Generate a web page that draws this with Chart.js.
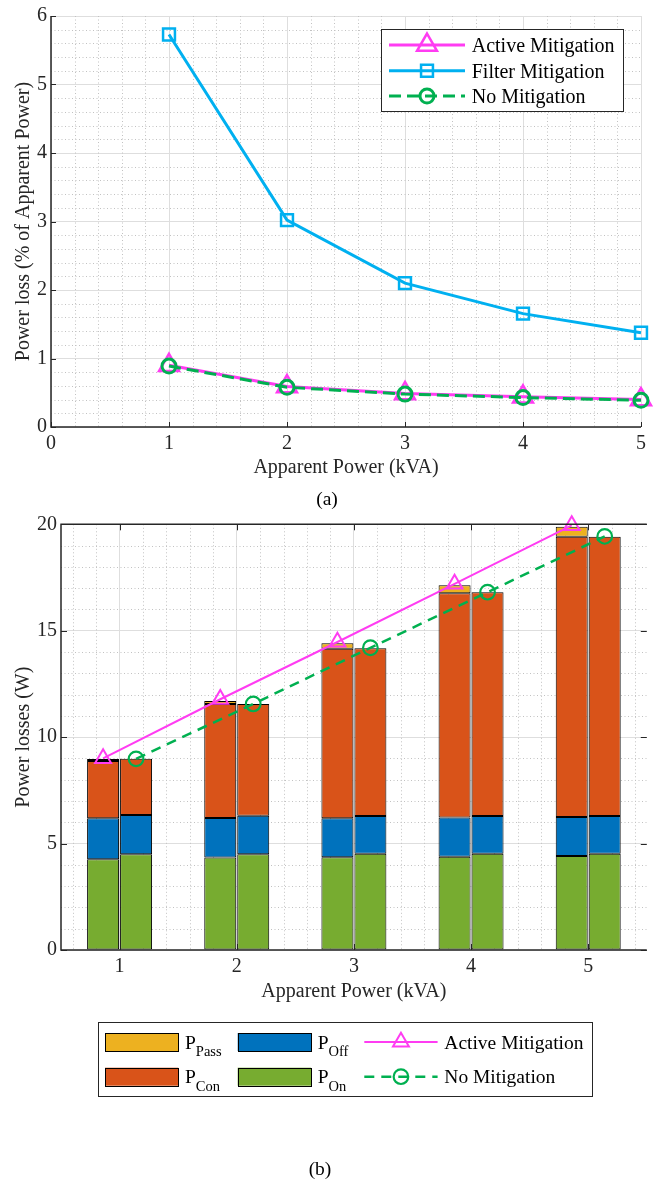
<!DOCTYPE html>
<html>
<head>
<meta charset="utf-8">
<script src="https://cdn.jsdelivr.net/npm/chart.js@4.4.1/dist/chart.umd.min.js"></script>
<style>
html,body{margin:0;padding:0;background:#fff;}
body{width:658px;height:1180px;position:relative;overflow:hidden;font-family:'Liberation Serif','Times New Roman',serif;}
#c1{position:absolute;left:0;top:0;width:658px;height:500px;}
#c2{position:absolute;left:0;top:500px;width:658px;height:680px;}
.cap{position:absolute;font-size:19.5px;color:#000;transform:translate(-50%,-50%);white-space:nowrap;line-height:1;}
</style>
</head>
<body>
<canvas id="c1" width="658" height="500"></canvas>
<canvas id="c2" width="658" height="680"></canvas>
<div class="cap" style="left:327px;top:499px">(a)</div>
<div class="cap" style="left:320px;top:1169px">(b)</div>
<script>
// ---------- Data: figure (a) ----------
const kvaA = [1, 2, 3, 4, 5];
const activePct = [0.90, 0.59, 0.49, 0.44, 0.40];
const filterPct = [5.73, 3.02, 2.10, 1.655, 1.375];
const noMitPct = [0.89, 0.58, 0.48, 0.43, 0.39];
const xTicksA = [0, 1, 2, 3, 4, 5];
const yTicksA = [0, 1, 2, 3, 4, 5, 6];

// ---------- Data: figure (b) ----------
const kvaB = [1, 2, 3, 4, 5];
const pOnActive   = [4.26, 4.34, 4.36, 4.38, 4.42];
const pOffActive  = [1.93, 1.86, 1.83, 1.84, 1.83];
const pConActive  = [2.69, 5.36, 7.96, 10.54, 13.17];
const pPassActive = [0.09, 0.14, 0.26, 0.38, 0.47];
const pOnNoMit    = [4.50, 4.50, 4.52, 4.52, 4.52];
const pOffNoMit   = [1.84, 1.81, 1.78, 1.78, 1.78];
const pConNoMit   = [2.64, 5.25, 7.88, 10.51, 13.12];
const activeW = [9.00, 11.78, 14.47, 17.20, 19.95];
const noMitW  = [8.98, 11.56, 14.20, 16.81, 19.43];
const xTicksB = [1, 2, 3, 4, 5];
const yTicksB = [0, 5, 10, 15, 20];

// ---------- Styles ----------
const FONT = "'Liberation Serif', 'Times New Roman', serif";
const INK = '#262626';
const C_ACTIVE = '#FF3CF2';
const C_FILTER = '#00B0F0';
const C_NOMIT = '#00B050';
const C_PASS = '#EDB120', C_CON = '#D95319', C_OFF = '#0072BD', C_ON = '#77AC30';
const TICK_FONT = {family: FONT, size: 20};
const TITLE_FONT = {family: FONT, size: 20};
const GROUP = 0.563;      // fraction of a category taken by the pair of bars
const BAR_PCT = 0.97;

Chart.defaults.font.family = FONT;

const pts = (xs, ys, dx) => xs.map((x, i) => ({x: x + (dx || 0), y: ys[i]}));
const setTicks = arr => s => { s.ticks = arr.map(v => ({value: v})); };

// ---------- Plugins ----------
const minorGrid = {
  id: 'minorGrid',
  beforeDatasetsDraw(chart, args, o) {
    const {ctx, chartArea: a, scales} = chart;
    const xs = scales.x, ys = scales.y;
    ctx.save();
    ctx.strokeStyle = o.color; ctx.lineWidth = 1; ctx.setLineDash(o.dash);
    const each = (scale, step, major, cb) => {
      const n0 = Math.ceil(scale.min / step - 1e-6), n1 = Math.floor(scale.max / step + 1e-6);
      for (let n = n0; n <= n1; n++) {
        const v = n * step, r = v / major;
        if (Math.abs(r - Math.round(r)) < 1e-6) continue;
        cb(Math.round(scale.getPixelForValue(v)) + 0.5);
      }
    };
    ctx.beginPath();
    each(xs, o.xStep, o.xMajor, p => { ctx.moveTo(p, a.top); ctx.lineTo(p, a.bottom); });
    each(ys, o.yStep, o.yMajor, p => { ctx.moveTo(a.left, p); ctx.lineTo(a.right, p); });
    ctx.stroke();
    ctx.restore();
  }
};

const axesFrame = {
  id: 'axesFrame',
  afterDatasetsDraw(chart, args, o) {
    const {ctx, chartArea: a, scales} = chart;
    const xs = scales.x, ys = scales.y;
    ctx.save();
    ctx.strokeStyle = INK; ctx.lineWidth = 1;
    ctx.beginPath();
    xs.ticks.forEach(t => {
      const p = Math.round(xs.getPixelForValue(t.value)) + 0.5;
      if (o.ticks.bottom) { ctx.moveTo(p, a.bottom); ctx.lineTo(p, a.bottom - o.len); }
      if (o.ticks.top) { ctx.moveTo(p, a.top); ctx.lineTo(p, a.top + o.len); }
    });
    ys.ticks.forEach(t => {
      const p = Math.round(ys.getPixelForValue(t.value)) + 0.5;
      if (o.ticks.left) { ctx.moveTo(a.left, p); ctx.lineTo(a.left + o.len, p); }
      if (o.ticks.right) { ctx.moveTo(a.right, p); ctx.lineTo(a.right - o.len, p); }
    });
    ctx.stroke();
    ctx.lineWidth = o.lineWidth;
    ctx.beginPath();
    if (o.lines.left) { ctx.moveTo(a.left, a.top); ctx.lineTo(a.left, a.bottom + 0.7); }
    if (o.lines.bottom) { ctx.moveTo(a.left - 0.7, a.bottom); ctx.lineTo(a.right, a.bottom); }
    if (o.lines.top) { ctx.moveTo(a.left - 0.7, a.top); ctx.lineTo(a.right, a.top); }
    if (o.lines.right) { ctx.moveTo(a.right, a.top); ctx.lineTo(a.right, a.bottom); }
    ctx.stroke();
    ctx.restore();
  }
};

const figLegend = {
  id: 'figLegend',
  afterDraw(chart, args, o) {
    const ctx = chart.ctx;
    const b = o.box;
    ctx.save();
    ctx.fillStyle = '#fff';
    ctx.fillRect(b.x, b.y, b.w, b.h);
    ctx.strokeStyle = INK; ctx.lineWidth = 1;
    ctx.strokeRect(Math.round(b.x) + 0.5, Math.round(b.y) + 0.5, Math.round(b.w), Math.round(b.h));
    o.items.forEach(it => {
      const ds = chart.data.datasets[it.ds];
      if (it.kind === 'box') {
        ctx.fillStyle = ds.backgroundColor;
        ctx.fillRect(it.x, it.y - o.boxH / 2, o.sampleW, o.boxH);
        ctx.strokeStyle = '#000'; ctx.lineWidth = 1;
        ctx.strokeRect(Math.round(it.x) + 0.5, Math.round(it.y - o.boxH / 2) + 0.5, Math.round(o.sampleW), Math.round(o.boxH));
      } else {
        ctx.strokeStyle = ds.borderColor; ctx.lineWidth = ds.borderWidth;
        ctx.setLineDash(ds.borderDash || []);
        ctx.beginPath(); ctx.moveTo(it.x, it.y); ctx.lineTo(it.x + o.sampleW, it.y); ctx.stroke();
        ctx.setLineDash([]);
        ctx.fillStyle = 'rgba(0,0,0,0)';
        ctx.lineWidth = ds.pointBorderWidth;
        Chart.helpers.drawPoint(ctx, {pointStyle: ds.pointStyle, rotation: 0, radius: ds.pointRadius, borderWidth: ds.pointBorderWidth}, it.x + o.sampleW / 2, it.y);
      }
      ctx.fillStyle = '#000';
      ctx.textBaseline = 'alphabetic'; ctx.textAlign = 'left';
      ctx.font = o.fontSize + 'px ' + FONT;
      const tx = it.x + o.textGap;
      ctx.fillText(it.text, tx, it.y + o.baseOff);
      if (it.sub) {
        const w = ctx.measureText(it.text).width;
        ctx.font = o.subSize + 'px ' + FONT;
        ctx.fillText(it.sub, tx + w, it.y + o.baseOff + o.subDrop);
      }
    });
    ctx.restore();
  }
};

// ---------- Figure (a) ----------
new Chart(document.getElementById('c1'), {
  type: 'line',
  data: {
    datasets: [
      {label: 'Active Mitigation', data: pts(kvaA, activePct), borderColor: C_ACTIVE, borderWidth: 3,
       pointStyle: 'triangle', pointRadius: 11.5, pointBorderWidth: 2.5, pointBorderColor: C_ACTIVE,
       pointBackgroundColor: 'rgba(0,0,0,0)', order: 3, clip: false, tension: 0},
      {label: 'Filter Mitigation', data: pts(kvaA, filterPct), borderColor: C_FILTER, borderWidth: 3,
       pointStyle: 'rect', pointRadius: 8.4, pointBorderWidth: 2.5, pointBorderColor: C_FILTER,
       pointBackgroundColor: 'rgba(0,0,0,0)', order: 2, clip: false, tension: 0},
      {label: 'No Mitigation', data: pts(kvaA, noMitPct), borderColor: C_NOMIT, borderWidth: 3, borderDash: [12, 6],
       pointStyle: 'circle', pointRadius: 7, pointBorderWidth: 3, pointBorderColor: C_NOMIT,
       pointBackgroundColor: 'rgba(0,0,0,0)', order: 1, clip: false, tension: 0}
    ]
  },
  options: {
    responsive: false, animation: false, events: [],
    layout: {padding: {left: 0, right: 17, top: 11, bottom: 0}},
    plugins: {
      legend: {display: false}, tooltip: {enabled: false},
      minorGrid: {color: '#c2c2c2', dash: [1, 2.5], xStep: 0.2, xMajor: 1, yStep: 0.2, yMajor: 1},
      axesFrame: {len: 5, lineWidth: 1.5, ticks: {left: true, bottom: true}, lines: {left: true, bottom: true}},
      figLegend: {
        box: {x: 381, y: 29, w: 242, h: 82}, sampleW: 76, textGap: 82.7, fontSize: 20, baseOff: 6.8,
        items: [
          {ds: 0, x: 389, y: 45, text: 'Active Mitigation'},
          {ds: 1, x: 389, y: 70.7, text: 'Filter Mitigation'},
          {ds: 2, x: 389, y: 96, text: 'No Mitigation'}
        ]
      }
    },
    scales: {
      x: {
        type: 'linear', min: 0, max: 5,
        afterBuildTicks: setTicks(xTicksA),
        afterFit: s => { s.height = 73; },
        grid: {color: '#dedede', lineWidth: 1, drawTicks: false},
        border: {display: false},
        ticks: {padding: 5, color: INK, font: TICK_FONT, maxRotation: 0, autoSkip: false},
        title: {display: true, text: 'Apparent Power (kVA)', color: INK, font: TITLE_FONT, padding: {top: 0, bottom: 20}}
      },
      y: {
        type: 'linear', min: 0, max: 6,
        afterBuildTicks: setTicks(yTicksA),
        afterFit: s => { s.width = 51; },
        grid: {color: '#dedede', lineWidth: 1, drawTicks: false},
        border: {display: false},
        ticks: {padding: 4, color: INK, font: TICK_FONT, autoSkip: false},
        title: {display: true, text: 'Power loss (% of Apparent Power)', color: INK, font: TITLE_FONT, padding: {top: 12, bottom: 0}}
      }
    }
  },
  plugins: [minorGrid, axesFrame, figLegend]
});

// ---------- Figure (b) ----------
const barDs = (label, arr, color, stack) => ({
  type: 'bar', label, data: pts(kvaB, arr), backgroundColor: color, borderColor: '#000', borderWidth: 1,
  borderSkipped: false, stack, categoryPercentage: GROUP, barPercentage: BAR_PCT, order: 5
});
const lineOffset = GROUP / 4;

new Chart(document.getElementById('c2'), {
  type: 'bar',
  data: {
    datasets: [
      barDs('P_On', pOnActive, C_ON, 'A'),
      barDs('P_Off', pOffActive, C_OFF, 'A'),
      barDs('P_Con', pConActive, C_CON, 'A'),
      barDs('P_Pass', pPassActive, C_PASS, 'A'),
      barDs('P_On', pOnNoMit, C_ON, 'B'),
      barDs('P_Off', pOffNoMit, C_OFF, 'B'),
      barDs('P_Con', pConNoMit, C_CON, 'B'),
      {type: 'line', label: 'Active Mitigation', data: pts(kvaB, activeW, -lineOffset), stack: 'lineA',
       borderColor: C_ACTIVE, borderWidth: 2, pointStyle: 'triangle', pointRadius: 9.2, pointBorderWidth: 2,
       pointBorderColor: C_ACTIVE, pointBackgroundColor: 'rgba(0,0,0,0)', order: 1, clip: false, tension: 0},
      {type: 'line', label: 'No Mitigation', data: pts(kvaB, noMitW, lineOffset), stack: 'lineB',
       borderColor: C_NOMIT, borderWidth: 2.5, borderDash: [10, 7], pointStyle: 'circle', pointRadius: 7.3, pointBorderWidth: 2.2,
       pointBorderColor: C_NOMIT, pointBackgroundColor: 'rgba(0,0,0,0)', order: 0, clip: false, tension: 0}
    ]
  },
  options: {
    responsive: false, animation: false, events: [],
    layout: {padding: {left: 0, right: 10.5, top: 24.3, bottom: 170}},
    plugins: {
      legend: {display: false}, tooltip: {enabled: false},
      minorGrid: {color: '#c2c2c2', dash: [1, 2.5], xStep: 0.2, xMajor: 1, yStep: 1, yMajor: 5},
      axesFrame: {len: 6, lineWidth: 1.5, ticks: {left: true, bottom: true, top: true, right: true}, lines: {left: true, bottom: true, top: true}},
      figLegend: {
        box: {x: 97.7, y: 521.7, w: 494, h: 74.3}, sampleW: 73.3, boxH: 18, textGap: 80, fontSize: 19.5, baseOff: 6.5,
        subSize: 14.5, subDrop: 7.3,
        items: [
          {ds: 3, kind: 'box', x: 105, y: 542, text: 'P', sub: 'Pass'},
          {ds: 2, kind: 'box', x: 105, y: 576.7, text: 'P', sub: 'Con'},
          {ds: 1, kind: 'box', x: 237.7, y: 542, text: 'P', sub: 'Off'},
          {ds: 0, kind: 'box', x: 237.7, y: 576.7, text: 'P', sub: 'On'},
          {ds: 7, x: 364.3, y: 542, text: 'Active Mitigation'},
          {ds: 8, x: 364.3, y: 576.7, text: 'No Mitigation'}
        ]
      }
    },
    scales: {
      x: {
        type: 'linear', min: 0.5, max: 5.5, offset: false,
        afterBuildTicks: setTicks(xTicksB),
        afterFit: s => { s.height = 60; },
        grid: {color: '#dedede', lineWidth: 1, drawTicks: false, offset: false},
        border: {display: false},
        ticks: {padding: 5, color: INK, font: TICK_FONT, maxRotation: 0, autoSkip: false},
        title: {display: true, text: 'Apparent Power (kVA)', color: INK, font: TITLE_FONT, padding: {top: 0, bottom: 6}}
      },
      y: {
        type: 'linear', min: 0, max: 20, stacked: true,
        afterBuildTicks: setTicks(yTicksB),
        afterFit: s => { s.width = 61; },
        grid: {color: '#dedede', lineWidth: 1, drawTicks: false},
        border: {display: false},
        ticks: {padding: 4, color: INK, font: TICK_FONT, autoSkip: false},
        title: {display: true, text: 'Power losses (W)', color: INK, font: TITLE_FONT, padding: {top: 12, bottom: 0}}
      }
    }
  },
  plugins: [minorGrid, axesFrame, figLegend]
});
</script>
</body>
</html>
